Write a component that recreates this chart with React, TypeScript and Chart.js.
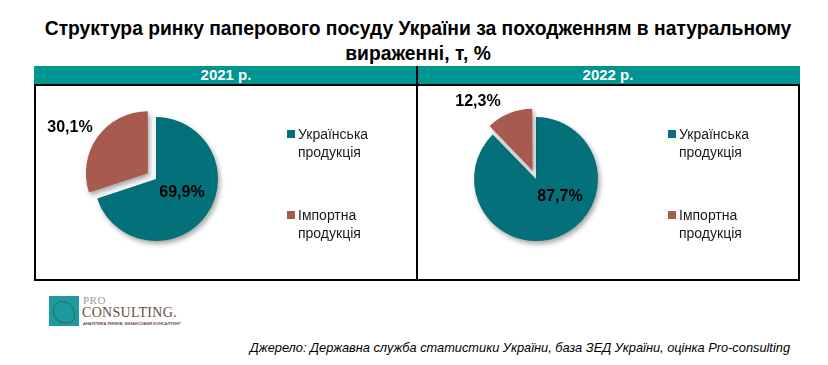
import React, { useEffect, useRef } from "react";
import { Chart, registerables } from "chart.js";

Chart.register(...registerables);

const TITLE_LINES = [
  "Структура ринку паперового посуду України за походженням в натуральному",
  "вираженні, т, %",
];
const YEARS = ["2021 р.", "2022 р."];
const CATEGORY_LINES = [
  ["Українська", "продукція"],
  ["Імпортна", "продукція"],
];
const CATEGORIES = ["Українська продукція", "Імпортна продукція"];
const VALUES_2021 = [69.9, 30.1];
const VALUES_2022 = [87.7, 12.3];
const SOURCE_TEXT =
  "Джерело: Державна служба статистики України, база ЗЕД України, оцінка Pro-consulting";

const COLORS = ["#03707A", "#A85A4F"];
const HEADER_COLOR = "#009592";
const FONT = "'Liberation Sans', Arial, sans-serif";

const fmt = (v: number) => v.toFixed(1).replace(".", ",") + "%";

const sliceLabelPlugin = {
  id: "sliceLabels",
  afterDatasetsDraw(chart: any, _args: any, opts: any) {
    const meta = chart.getDatasetMeta(0);
    const data = chart.data.datasets[0].data as number[];
    const ctx = chart.ctx;
    ctx.save();
    ctx.font = `bold 16px ${FONT}`;
    ctx.fillStyle = "#000";
    ctx.textAlign = "center";
    ctx.textBaseline = "middle";
    meta.data.forEach((arc: any, i: number) => {
      const off = (opts.offsets || [])[i] || [0, 0];
      ctx.fillText(fmt(data[i]), arc.x + off[0], arc.y + off[1]);
    });
    ctx.restore();
  },
};

// Chart.js grows an offset slice's radius a little; keep exploded slices at the pie radius
const explodeFixPlugin = {
  id: "explodeFix",
  afterDatasetsUpdate(chart: any) {
    const meta = chart.getDatasetMeta(0);
    meta.data.forEach((arc: any) => {
      const off = ((arc.options && arc.options.offset) || 0) / 4;
      if (off) {
        const fix = 1 - Math.sin(Math.min(Math.PI, arc.circumference || 0));
        arc.outerRadius = arc.outerRadius - off * fix;
      }
    });
  },
};

const shadowPlugin = {
  id: "pieShadow",
  beforeDatasetsDraw(chart: any) {
    const ctx = chart.ctx;
    ctx.save();
    ctx.shadowColor = "rgba(0,0,0,0.35)";
    ctx.shadowBlur = 5;
    ctx.shadowOffsetX = 2;
    ctx.shadowOffsetY = 3;
  },
  afterDatasetsDraw(chart: any) {
    chart.ctx.restore();
  },
};

function Pie({
  values,
  width,
  height,
  padRight,
  padBottom,
  explode,
  offsets,
}: {
  values: number[];
  width: number;
  height: number;
  padRight: number;
  padBottom: number;
  explode: number;
  offsets: number[][];
}) {
  const ref = useRef<HTMLCanvasElement | null>(null);
  useEffect(() => {
    if (!ref.current) return;
    const chart = new Chart(ref.current, {
      type: "pie",
      data: {
        labels: CATEGORIES,
        datasets: [
          {
            data: values,
            backgroundColor: COLORS,
            borderWidth: 0,
            offset: [0, explode * 4],
          },
        ],
      },
      options: {
        animation: false,
        responsive: false,
        radius: 62,
        layout: { padding: { left: 0, top: 0, right: padRight, bottom: padBottom } },
        plugins: {
          legend: { display: false },
          tooltip: { enabled: false },
          sliceLabels: { offsets },
        } as any,
      } as any,
      plugins: [explodeFixPlugin, shadowPlugin, sliceLabelPlugin],
    });
    return () => chart.destroy();
  }, []);
  return (
    <canvas
      ref={ref}
      width={width}
      height={height}
      style={{ width, height, display: "block" }}
    />
  );
}

function Legend({ left, top }: { left: number; top: number }) {
  return (
    <div style={{ position: "absolute", left, top }}>
      {CATEGORY_LINES.map((lines, i) => (
        <div
          key={i}
          style={{
            position: "absolute",
            left: 0,
            top: i * 81,
            font: `14px ${FONT}`,
            lineHeight: "18px",
            color: "#1a1a1a",
            whiteSpace: "nowrap",
          }}
        >
          <div
            style={{
              position: "absolute",
              left: -11,
              top: 5,
              width: 8,
              height: 8,
              background: COLORS[i],
            }}
          />
          {lines.map((l, j) => (
            <div key={j}>{l}</div>
          ))}
        </div>
      ))}
    </div>
  );
}

export default function App() {
  return (
    <div
      style={{
        position: "fixed",
        left: 0,
        top: 0,
        width: 828,
        height: 365,
        background: "#fff",
        overflow: "hidden",
      }}
    >
      {TITLE_LINES.map((t, i) => (
        <div
          key={i}
          style={{
            position: "absolute",
            left: 0,
            width: 836,
            top: 16 + i * 25,
            textAlign: "center",
            font: `bold 20px ${FONT}`,
            lineHeight: "25px",
            color: "#000",
            whiteSpace: "nowrap",
            transform: "scaleX(0.964)",
            transformOrigin: "418px 0",
          }}
        >
          {t}
        </div>
      ))}

      {/* box */}
      <div
        style={{
          position: "absolute",
          left: 34,
          top: 66,
          width: 766,
          height: 215,
          borderLeft: "2px solid #000",
          borderRight: "2px solid #000",
          borderBottom: "2px solid #000",
          boxSizing: "border-box",
        }}
      />
      <div
        style={{
          position: "absolute",
          left: 34,
          top: 66,
          width: 766,
          height: 19,
          background: HEADER_COLOR,
        }}
      />
      <div
        style={{
          position: "absolute",
          left: 34,
          top: 84,
          width: 766,
          height: 2,
          background: "#000",
        }}
      />
      <div
        style={{
          position: "absolute",
          left: 416,
          top: 66,
          width: 2,
          height: 215,
          background: "#000",
        }}
      />
      {YEARS.map((y, i) => (
        <div
          key={y}
          style={{
            position: "absolute",
            left: i === 0 ? 36 : 418,
            width: 380,
            top: 66,
            height: 19,
            lineHeight: "19px",
            textAlign: "center",
            font: `bold 15px ${FONT}`,
            color: "#fff",
          }}
        >
          {y}
        </div>
      ))}

      <div style={{ position: "absolute", left: 36, top: 86 }}>
        <Pie
          values={VALUES_2021}
          width={380}
          height={193}
          padRight={140}
          padBottom={7}
          explode={10}
          offsets={[
            [26, 14],
            [-86, -51],
          ]}
        />
      </div>
      <div style={{ position: "absolute", left: 418, top: 86 }}>
        <Pie
          values={VALUES_2022}
          width={380}
          height={193}
          padRight={144}
          padBottom={7}
          explode={9}
          offsets={[
            [24, 18],
            [-58, -77],
          ]}
        />
      </div>

      <Legend left={298} top={125} />
      <Legend left={679} top={125} />

      {/* logo */}
      <div
        style={{
          position: "absolute",
          left: 49,
          top: 296,
          width: 30,
          height: 30,
          background: "#1b9aa0",
        }}
      >
        <div
          style={{
            position: "absolute",
            left: 4,
            top: 5,
            width: 20,
            height: 20,
            border: "1px solid #4b3b38",
            borderRadius: "40% 60% 30% 50%",
            opacity: 0.6,
          }}
        />
      </div>
      <div
        style={{
          position: "absolute",
          left: 83,
          top: 294,
          font: "11px 'Liberation Serif', 'DejaVu Serif', serif",
          color: "#9a9a9a",
          letterSpacing: 0.5,
        }}
      >
        PRO
      </div>
      <div
        style={{
          position: "absolute",
          left: 82,
          top: 305,
          font: "14px 'Liberation Serif', 'DejaVu Serif', serif",
          color: "#6a4b43",
          letterSpacing: 0.3,
        }}
      >
        CONSULTING.
      </div>
      <div
        style={{
          position: "absolute",
          left: 83,
          top: 321,
          font: "bold 4px 'Liberation Sans', sans-serif",
          color: "#6a4b43",
          whiteSpace: "nowrap",
        }}
      >
        АНАЛІТИКА РИНКІВ. ФІНАНСОВИЙ КОНСАЛТИНГ
      </div>

      <div
        style={{
          position: "absolute",
          right: 38,
          top: 340,
          font: `italic 12.8px ${FONT}`,
          color: "#000",
          whiteSpace: "nowrap",
        }}
      >
        {SOURCE_TEXT}
      </div>
    </div>
  );
}
